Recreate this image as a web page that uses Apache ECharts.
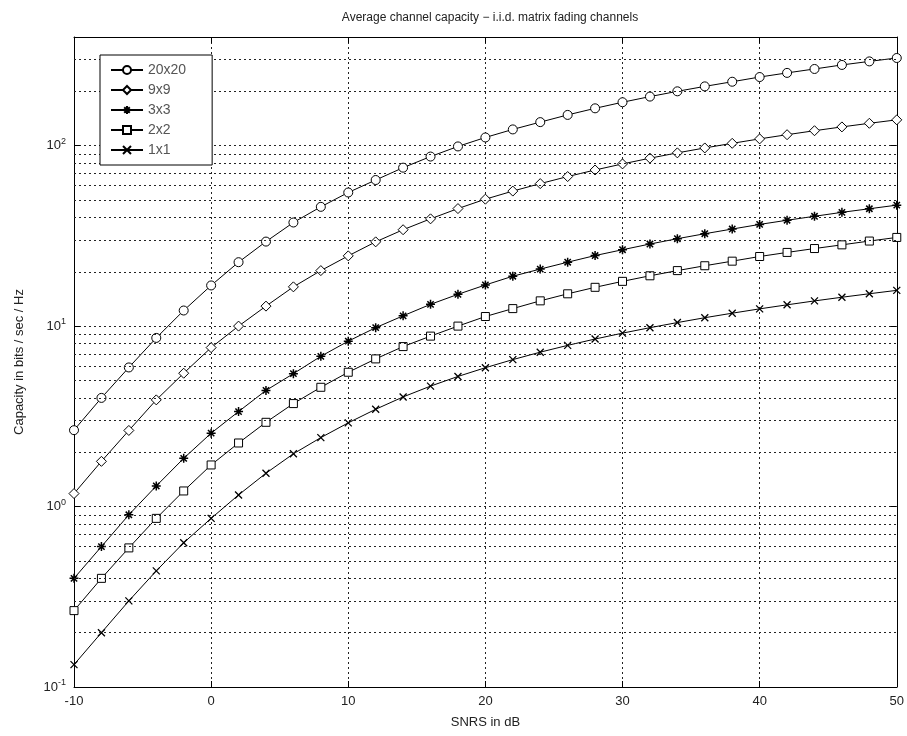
<!DOCTYPE html>
<html>
<head>
<meta charset="utf-8">
<script src="https://cdn.jsdelivr.net/npm/echarts@6/dist/echarts.min.js"></script>
<style>
  html, body { margin: 0; padding: 0; background: #fff; }
  #chart { width: 907px; height: 736px; }
</style>
</head>
<body>
<div id="chart"></div>
<script>
  // SNR in dB, one point every 2 dB
  var snr = [-10,-8,-6,-4,-2,0,2,4,6,8,10,12,14,16,18,20,22,24,26,28,30,32,34,36,38,40,42,44,46,48,50]
  var names = ['20x20', '9x9', '3x3', '2x2', '1x1']
  var cap20 = [2.65,4.0,5.9,8.6,12.2,16.8,22.6,29.4,37.5,45.8,55.0,64.5,75.5,87,99,111,123,135,148,161,174,187,200,213,226,240,253,266,280,293,306]
  var cap9 = [1.18,1.78,2.64,3.9,5.48,7.6,10.0,12.9,16.5,20.3,24.5,29.3,34.2,39.3,44.8,50.5,56.0,61.6,67.4,73.3,79.2,85.2,91.2,97.1,103,109,115,121,127,133,139]
  var cap3 = [0.40,0.60,0.90,1.30,1.85,2.55,3.36,4.4,5.45,6.8,8.25,9.8,11.4,13.2,15.0,16.9,18.9,20.7,22.6,24.6,26.5,28.5,30.5,32.5,34.5,36.6,38.6,40.6,42.7,44.7,46.8]
  var cap2 = [0.265,0.40,0.59,0.86,1.22,1.70,2.25,2.93,3.72,4.58,5.55,6.58,7.7,8.8,10.0,11.3,12.5,13.8,15.1,16.4,17.7,19.0,20.3,21.6,22.9,24.3,25.6,26.9,28.2,29.6,31.0]
  var cap1 = [0.133,0.20,0.30,0.44,0.63,0.86,1.16,1.53,1.96,2.41,2.91,3.46,4.05,4.65,5.26,5.88,6.52,7.17,7.82,8.48,9.14,9.80,10.46,11.13,11.79,12.46,13.12,13.79,14.45,15.11,15.78]
  var xTicks = [-10, 50, 10]   // min, max, interval
  var yRange = [0.1, 400]

  var font = 'Liberation Sans, Arial, sans-serif'
  var starPath = 'path://M5,0L5,10M0,5L10,5M1.5,1.5L8.5,8.5M8.5,1.5L1.5,8.5'
  var crossPath = 'path://M0,0L10,10M10,0L0,10'

  // minor grid lines 2..9 per decade
  var minorVals = []
  ;[0.1, 1, 10, 100].forEach(function (d) {
    for (var k = 2; k <= 9; k++) {
      var v = +(d * k).toPrecision(3)
      if (v < yRange[1]) minorVals.push(v)
    }
  })

  function pairs(arr) {
    return arr.map(function (v, i) { return [snr[i], v] })
  }

  function mkSeries(name, arr, symbol, size, bw) {
    return {
      name: name,
      type: 'line',
      data: pairs(arr),
      symbol: symbol,
      symbolSize: size,
      showAllSymbol: true,
      lineStyle: { color: '#000', width: 1 },
      itemStyle: { color: '#fff', borderColor: '#000', borderWidth: bw },
      emphasis: { disabled: true },
      z: 3
    }
  }

  var myChart = echarts.init(document.getElementById('chart'))
  var gridLine = { color: '#222', width: 1, type: [2, 3] }
  var boxLine = { onZero: false, lineStyle: { color: '#000', width: 1 } }
  var option = {
    animation: false,
    backgroundColor: '#fff',
    title: {
      text: 'Average channel capacity \u2212 i.i.d. matrix fading channels',
      left: 485,
      textAlign: 'center',
      top: 7,
      textStyle: { fontFamily: font, fontSize: 12, fontWeight: 'normal', color: '#222' }
    },
    legend: {
      data: names,
      orient: 'vertical',
      left: 100,
      top: 55,
      padding: [8, 26, 8, 10],
      itemGap: 6,
      itemWidth: 32,
      itemHeight: 10,
      itemTextGap: 9,
      backgroundColor: '#fff',
      borderColor: '#000',
      borderWidth: 1,
      borderRadius: 0,
      textStyle: { fontFamily: font, fontSize: 14, color: '#555' },
      z: 10
    },
    grid: { left: 74, right: 10, top: 37, bottom: 49 },
    xAxis: [{
      type: 'value',
      min: xTicks[0], max: xTicks[1], interval: xTicks[2],
      name: 'SNRS in dB',
      nameLocation: 'middle',
      nameGap: 29,
      nameTextStyle: { fontFamily: font, fontSize: 13, color: '#222' },
      axisLine: boxLine,
      axisTick: { inside: true, length: 6, lineStyle: { color: '#000' } },
      axisLabel: { fontFamily: font, fontSize: 13, color: '#222', margin: 8 },
      splitLine: { show: true, lineStyle: gridLine }
    }, {
      type: 'value',
      position: 'top',
      min: xTicks[0], max: xTicks[1], interval: xTicks[2],
      axisLine: { show: true, onZero: false, lineStyle: { color: '#000', width: 1 } },
      axisTick: { inside: true, length: 6, lineStyle: { color: '#000' } },
      axisLabel: { show: false },
      splitLine: { show: false }
    }],
    yAxis: [{
      type: 'log',
      logBase: 10,
      min: yRange[0], max: yRange[1],
      name: 'Capacity in bits / sec / Hz',
      nameLocation: 'middle',
      nameGap: 48,
      nameTextStyle: { fontFamily: font, fontSize: 13, color: '#222' },
      axisLine: { show: true, onZero: false, lineStyle: { color: '#000', width: 1 } },
      axisTick: { inside: true, length: 6, lineStyle: { color: '#000' } },
      axisLabel: {
        margin: 8,
        formatter: function (v) {
          var e = Math.log10(v)
          if (Math.abs(e - Math.round(e)) > 1e-6) return ''
          return '{b|10}{s|' + Math.round(e) + '}'
        },
        rich: {
          b: { fontFamily: font, fontSize: 13, color: '#222', lineHeight: 18 },
          s: { fontFamily: font, fontSize: 9, color: '#222', verticalAlign: 'top', lineHeight: 10 }
        }
      },
      splitLine: { show: true, lineStyle: gridLine }
    }, {
      type: 'log',
      logBase: 10,
      position: 'right',
      min: yRange[0], max: yRange[1],
      axisLine: { show: true, onZero: false, lineStyle: { color: '#000', width: 1 } },
      axisTick: { inside: true, length: 6, lineStyle: { color: '#000' } },
      axisLabel: { show: false },
      splitLine: { show: false }
    }],
    series: [
      {
        name: 'grid',
        type: 'line',
        data: [],
        z: 1,
        markLine: {
          silent: true,
          symbol: ['none', 'none'],
          label: { show: false },
          lineStyle: gridLine,
          emphasis: { disabled: true },
          data: minorVals.map(function (v) { return { yAxis: v } })
        }
      },
      mkSeries(names[0], cap20, 'circle', 9, 1),
      mkSeries(names[1], cap9, 'diamond', 10, 1),
      mkSeries(names[2], cap3, starPath, 9, 1.5),
      mkSeries(names[3], cap2, 'rect', 8, 1),
      mkSeries(names[4], cap1, crossPath, 7, 1.3)
    ]
  }
  myChart.setOption(option)
</script>
</body>
</html>
